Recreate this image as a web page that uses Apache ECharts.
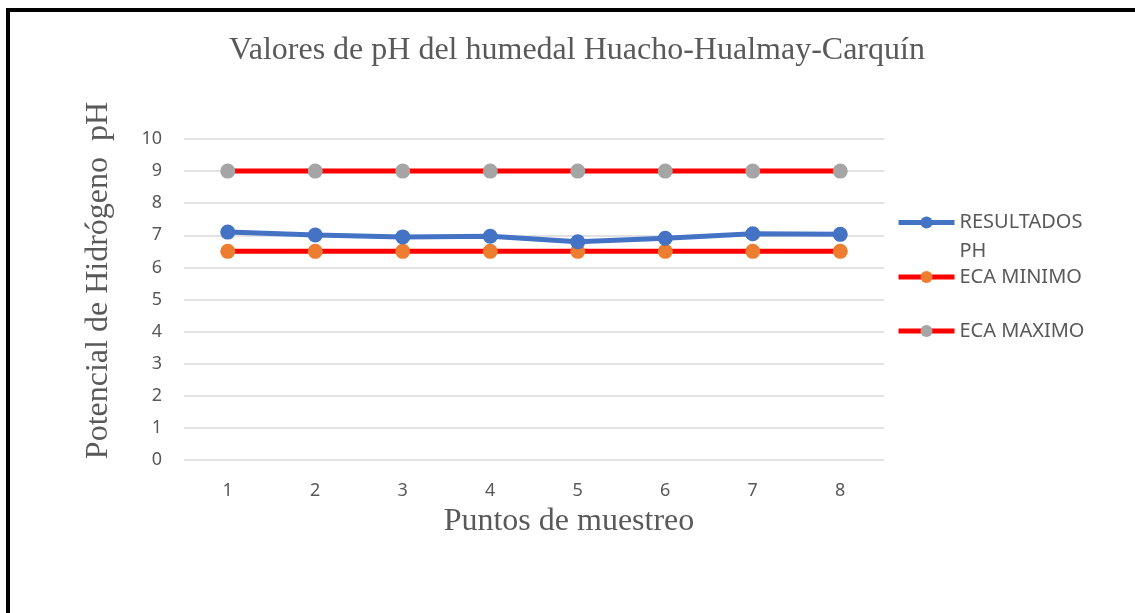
<!DOCTYPE html>
<html>
<head>
<meta charset="utf-8">
<script src="https://cdn.jsdelivr.net/npm/echarts@6/dist/echarts.min.js"></script>
<style>
  html, body { margin: 0; padding: 0; background: #fff; }
  #frame { position: absolute; left: 6px; top: 8px; width: 1200px; height: 700px;
           border-top: 4px solid #000; border-left: 4px solid #000; }
  #main { position: absolute; left: 0; top: 0; width: 1135px; height: 613px; }
</style>
</head>
<body>
<div id="frame"></div>
<div id="main"></div>
<script>
// puntos de muestreo
var puntos = ['1', '2', '3', '4', '5', '6', '7', '8'];
// valores de pH medidos
var resultadosPH = [7.10, 7.01, 6.95, 6.97, 6.80, 6.91, 7.05, 7.03];
var ecaMinimo = [6.5, 6.5, 6.5, 6.5, 6.5, 6.5, 6.5, 6.5];
var ecaMaximo = [9, 9, 9, 9, 9, 9, 9, 9];

var myChart = echarts.init(document.getElementById('main'));

var legendText = {
    fontFamily: 'Noto Sans',
    fontSize: 20,
    lineHeight: 24,
    color: '#595959'
};

var option = {
    backgroundColor: 'transparent',
    title: {
        text: 'Valores de pH del humedal Huacho-Hualmay-Carquín',
        left: 572,
        textAlign: 'center',
        top: 30,
        textStyle: {
            fontFamily: 'Liberation Serif',
            fontSize: 32,
            fontWeight: 'normal',
            color: '#595959'
        }
    },
    legend: [
        {
            data: ['RESULTADOS PH'],
            left: 891, top: 174,
            itemWidth: 56, itemHeight: 15,
            lineStyle: { width: 5 },
            // linea vacia arriba para que RESULTADOS quede a la altura del icono
            formatter: function () { return ' \nRESULTADOS\nPH'; },
            textStyle: Object.assign({}, legendText, { lineHeight: 29 })
        },
        {
            data: ['ECA MINIMO'],
            left: 891, top: 260,
            itemWidth: 56, itemHeight: 15,
            lineStyle: { width: 5 },
            textStyle: legendText
        },
        {
            data: ['ECA MAXIMO'],
            left: 891, top: 314,
            itemWidth: 56, itemHeight: 15,
            lineStyle: { width: 5 },
            textStyle: legendText
        }
    ],
    grid: {
        left: 184,
        right: 251,
        top: 139,
        bottom: 153
    },
    xAxis: {
        type: 'category',
        data: puntos,
        boundaryGap: true,
        name: 'Puntos de muestreo',
        nameLocation: 'middle',
        nameGap: 46,
        nameTextStyle: {
            fontFamily: 'Liberation Serif',
            fontSize: 32,
            color: '#595959',
            padding: [0, 0, 0, 70]
        },
        axisLine: { show: false },
        axisTick: { show: false },
        axisLabel: {
            margin: 22,
            fontFamily: 'Noto Sans',
            fontSize: 18,
            color: '#595959'
        }
    },
    yAxis: {
        type: 'value',
        min: 0,
        max: 10,
        interval: 1,
        name: 'Potencial de Hidrógeno  pH',
        nameLocation: 'middle',
        nameGap: 69,
        nameTextStyle: {
            fontFamily: 'Liberation Serif',
            fontSize: 32,
            color: '#595959',
            padding: [0, 0, 0, 38]
        },
        axisLine: { show: false },
        axisTick: { show: false },
        axisLabel: {
            margin: 22,
            fontFamily: 'Noto Sans',
            fontSize: 18,
            color: '#595959'
        },
        splitLine: { lineStyle: { color: '#d9d9d9', width: 1.5 } }
    },
    series: [
        {
            name: 'ECA MINIMO',
            type: 'line',
            data: ecaMinimo,
            symbol: 'circle',
            symbolSize: 15,
            lineStyle: { color: '#ff0000', width: 5 },
            itemStyle: { color: '#ed7d31' },
            z: 2
        },
        {
            name: 'ECA MAXIMO',
            type: 'line',
            data: ecaMaximo,
            symbol: 'circle',
            symbolSize: 15,
            lineStyle: { color: '#ff0000', width: 5 },
            itemStyle: { color: '#a5a5a5' },
            z: 2
        },
        {
            name: 'RESULTADOS PH',
            type: 'line',
            data: resultadosPH,
            symbol: 'circle',
            symbolSize: 15,
            lineStyle: { color: '#4472c4', width: 5 },
            itemStyle: { color: '#4472c4' },
            z: 3
        }
    ],
    animation: false
};
myChart.setOption(option);
</script>
</body>
</html>
